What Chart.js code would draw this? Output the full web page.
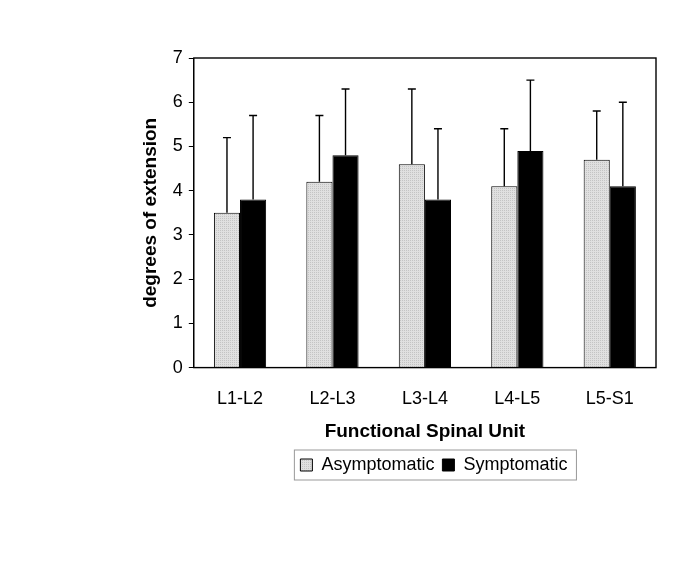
<!DOCTYPE html>
<html>
<head>
<meta charset="utf-8">
<script src="https://cdn.jsdelivr.net/npm/chart.js@4"></script>
<style>
  body { margin: 0; background: #fff; }
  #wrap { width: 685px; height: 570px; }
</style>
</head>
<body>
<div id="wrap"><canvas id="extChart"></canvas></div>
<script>
// functional spinal units
const units = ["L1-L2", "L2-L3", "L3-L4", "L4-L5", "L5-S1"];
const asymValues = [3.5, 4.2, 4.6, 4.1, 4.7];
const asymSD = [1.7, 1.5, 1.7, 1.3, 1.1];
const symValues = [3.8, 4.8, 3.8, 4.9, 4.1];
const symSD = [1.9, 1.5, 1.6, 1.6, 1.9];
const yTicks = [0, 1, 2, 3, 4, 5, 6, 7];

// stippled grey fill like the original
function dotPattern() {
  const c = document.createElement("canvas");
  c.width = 2; c.height = 2;
  const g = c.getContext("2d");
  g.fillStyle = "#e0e0e0";
  g.fillRect(0, 0, 2, 2);
  g.fillStyle = "#c4c4c4";
  g.fillRect(0, 0, 1, 1);
  return g.createPattern(c, "repeat");
}
const grey = dotPattern();

// upward error bars
const errorBars = {
  id: "errorBars",
  afterDatasetsDraw(chart) {
    const ctx = chart.ctx;
    const y = chart.scales.y;
    const sds = [asymSD, symSD];
    ctx.save();
    ctx.strokeStyle = "#000";
    ctx.lineWidth = 1.4;
    chart.data.datasets.forEach((ds, i) => {
      chart.getDatasetMeta(i).data.forEach((bar, j) => {
        const top = y.getPixelForValue(ds.data[j] + sds[i][j]);
        ctx.beginPath();
        ctx.moveTo(bar.x, bar.y);
        ctx.lineTo(bar.x, top);
        ctx.moveTo(bar.x - 4, top);
        ctx.lineTo(bar.x + 4, top);
        ctx.stroke();
      });
    });
    ctx.restore();
  }
};

// nudge the legend a bit to the right, as in the original
const legendShift = {
  id: "legendShift",
  afterLayout(chart) {
    chart.legend.left += 9;
    chart.legend.right += 9;
  }
};

// box around plot and around legend
const frames = {
  id: "frames",
  afterDraw(chart) {
    const ctx = chart.ctx;
    const a = chart.chartArea;
    ctx.save();
    ctx.strokeStyle = "#000";
    ctx.lineWidth = 1.4;
    ctx.strokeRect(a.left, a.top, a.right - a.left, a.bottom - a.top);
    const boxes = chart.legend.legendHitBoxes;
    if (boxes && boxes.length) {
      const l = Math.min(...boxes.map(b => b.left)) - 6;
      const r = Math.max(...boxes.map(b => b.left + b.width)) + 9;
      const t = Math.min(...boxes.map(b => b.top)) - 6;
      const btm = Math.max(...boxes.map(b => b.top + b.height)) + 6;
      ctx.strokeStyle = "#999";
      ctx.lineWidth = 1;
      ctx.strokeRect(l, t, r - l, btm - t);
    }
    ctx.restore();
  }
};

new Chart("extChart", {
  type: "bar",
  data: {
    labels: units,
    datasets: [{
      label: "Asymptomatic",
      data: asymValues,
      backgroundColor: grey,
      borderColor: "#000",
      borderWidth: 1
    }, {
      label: "Symptomatic",
      data: symValues,
      backgroundColor: "#000",
      borderColor: "#000",
      borderWidth: 1
    }]
  },
  options: {
    responsive: true,
    maintainAspectRatio: false,
    animation: false,
    layout: { padding: { left: 139, right: 29, top: 58, bottom: 86 } },
    datasets: { bar: { categoryPercentage: 0.565, barPercentage: 1 } },
    scales: {
      x: {
        grid: { display: false },
        border: { display: false },
        ticks: { color: "#000", font: { family: "Liberation Sans", size: 18 }, padding: 13 },
        title: {
          display: true,
          text: "Functional Spinal Unit",
          color: "#000",
          font: { family: "Liberation Sans", size: 19, weight: "bold" },
          padding: { top: -3, bottom: 5 }
        }
      },
      y: {
        min: 0,
        max: 7,
        afterBuildTicks: axis => { axis.ticks = yTicks.map(v => ({ value: v })); },
        grid: { drawOnChartArea: false, tickLength: 5, color: "#000" },
        border: { color: "#000" },
        ticks: { color: "#000", font: { family: "Liberation Sans", size: 18 }, padding: 6 },
        title: {
          display: true,
          text: "degrees of extension",
          color: "#000",
          font: { family: "Liberation Sans", size: 19, weight: "bold" },
          padding: { top: 0, bottom: 5 }
        }
      }
    },
    plugins: {
      legend: {
        position: "bottom",
        fullSize: false,
        labels: {
          color: "#000",
          font: { family: "Liberation Sans", size: 18 },
          boxWidth: 12,
          boxHeight: 12,
          padding: 8
        }
      },
      tooltip: { enabled: false }
    }
  },
  plugins: [errorBars, legendShift, frames]
});
</script>
</body>
</html>
